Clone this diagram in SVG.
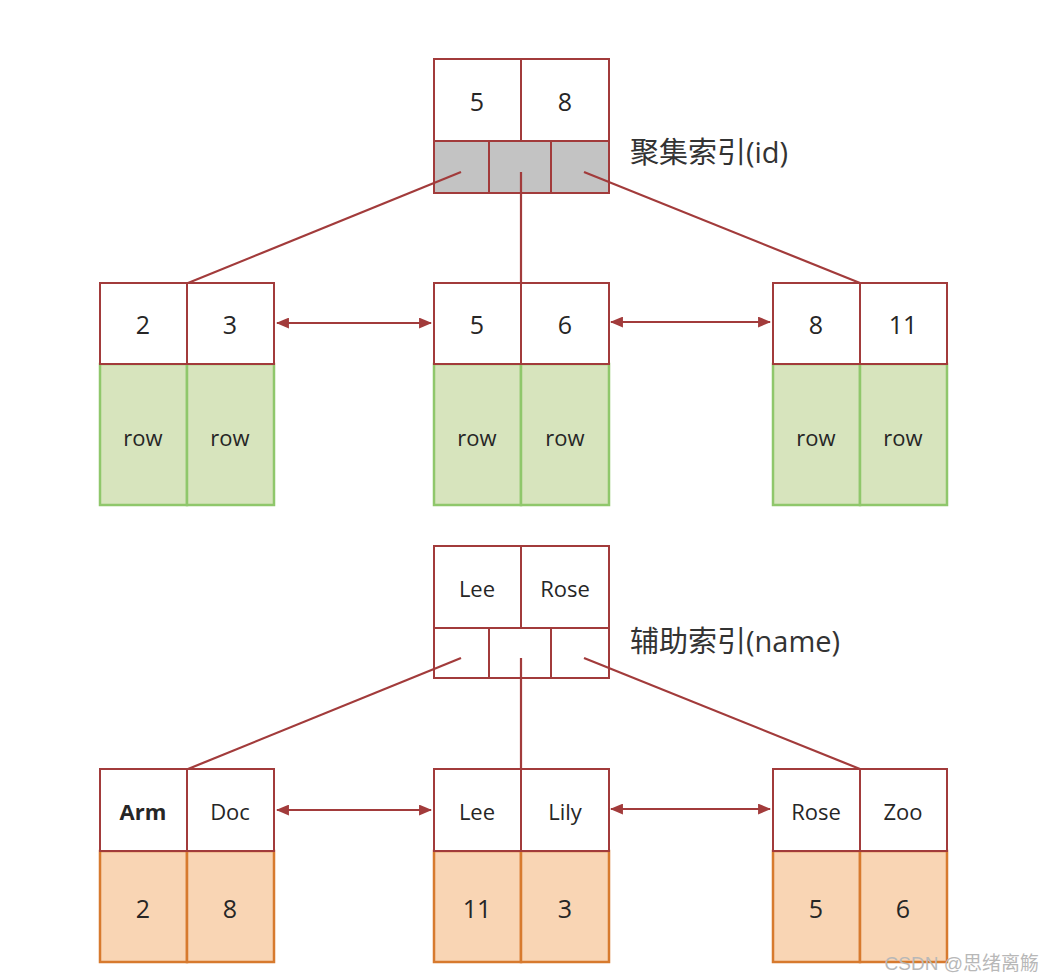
<svg xmlns="http://www.w3.org/2000/svg" width="1043" height="979" viewBox="0 0 1043 979">
<style>
.k{fill:#fff;stroke:#a23b3b;stroke-width:2}
.g{fill:#c3c3c3;stroke:#a23b3b;stroke-width:2}
.p{fill:#fff;stroke:#a23b3b;stroke-width:2}
.row{fill:#d7e4bd;stroke:#8fc76b;stroke-width:2.5}
.val{fill:#f9d5b4;stroke:#d77a2e;stroke-width:2.5}
.t{font-family:"Open Sans","Liberation Sans",sans-serif;font-size:25px;fill:#262626;text-anchor:middle;dominant-baseline:central}
.s{font-family:"Open Sans","Liberation Sans",sans-serif;font-size:22px;fill:#262626;text-anchor:middle;dominant-baseline:central}
.lab{font-family:"Open Sans","Noto Sans CJK SC",sans-serif;font-size:29px;fill:#333}
.c{stroke:#a23b3b;stroke-width:2.2;fill:none}
</style>
<defs>
<marker id="ah" viewBox="0 0 12 10" refX="11" refY="5" markerWidth="13" markerHeight="11" markerUnits="userSpaceOnUse" orient="auto-start-reverse">
<path d="M0,0 L12,5 L0,10 Z" fill="#a23b3b"/>
</marker>
</defs>
<rect width="1043" height="979" fill="#fff"/>

<g id="connectors">
<line class="c" x1="461" y1="172" x2="188" y2="283"/>
<line class="c" x1="521" y1="172" x2="521" y2="283"/>
<line class="c" x1="584" y1="172" x2="860" y2="283"/>
<line class="c" x1="277" y1="323" x2="431" y2="323" marker-start="url(#ah)" marker-end="url(#ah)"/>
<line class="c" x1="611" y1="322" x2="770" y2="322" marker-start="url(#ah)" marker-end="url(#ah)"/>
<line class="c" x1="461" y1="658" x2="188" y2="769"/>
<line class="c" x1="521" y1="658" x2="521" y2="769"/>
<line class="c" x1="584" y1="658" x2="860" y2="769"/>
<line class="c" x1="277" y1="810" x2="431" y2="810" marker-start="url(#ah)" marker-end="url(#ah)"/>
<line class="c" x1="611" y1="809" x2="770" y2="809" marker-start="url(#ah)" marker-end="url(#ah)"/>
</g>

<g id="root-id">
<rect class="k" x="434" y="59" width="87" height="82"/>
<rect class="k" x="521" y="59" width="88" height="82"/>
<rect class="g" x="434" y="141" width="55" height="52"/>
<rect class="g" x="489" y="141" width="62" height="52"/>
<rect class="g" x="551" y="141" width="58" height="52"/>
<line class="c" x1="461" y1="172" x2="434" y2="183"/>
<line class="c" x1="521" y1="172" x2="521" y2="193"/>
<line class="c" x1="584" y1="172" x2="609" y2="182"/>
<text class="t" x="477" y="101">5</text>
<text class="t" x="565" y="101">8</text>
<text class="lab" x="630" y="163">聚集索引(id)</text>
</g>

<g id="leaf-id-1">
<rect class="row" x="100" y="364" width="87" height="141"/>
<rect class="row" x="187" y="364" width="87" height="141"/>
<rect class="k" x="100" y="283" width="87" height="81"/>
<rect class="k" x="187" y="283" width="87" height="81"/>
<text class="t" x="143" y="324">2</text>
<text class="t" x="230" y="324">3</text>
<text class="s" x="143" y="437">row</text>
<text class="s" x="230" y="437">row</text>
</g>

<g id="leaf-id-2">
<rect class="row" x="434" y="364" width="87" height="141"/>
<rect class="row" x="521" y="364" width="88" height="141"/>
<rect class="k" x="434" y="283" width="87" height="81"/>
<rect class="k" x="521" y="283" width="88" height="81"/>
<text class="t" x="477" y="324">5</text>
<text class="t" x="565" y="324">6</text>
<text class="s" x="477" y="437">row</text>
<text class="s" x="565" y="437">row</text>
</g>

<g id="leaf-id-3">
<rect class="row" x="773" y="364" width="87" height="141"/>
<rect class="row" x="860" y="364" width="87" height="141"/>
<rect class="k" x="773" y="283" width="87" height="81"/>
<rect class="k" x="860" y="283" width="87" height="81"/>
<text class="t" x="816" y="324">8</text>
<text class="t" x="903" y="324">11</text>
<text class="s" x="816" y="437">row</text>
<text class="s" x="903" y="437">row</text>
</g>

<g id="root-name">
<rect class="k" x="434" y="546" width="87" height="82"/>
<rect class="k" x="521" y="546" width="88" height="82"/>
<rect class="p" x="434" y="628" width="55" height="50"/>
<rect class="p" x="489" y="628" width="62" height="50"/>
<rect class="p" x="551" y="628" width="58" height="50"/>
<line class="c" x1="461" y1="658" x2="434" y2="669"/>
<line class="c" x1="521" y1="658" x2="521" y2="678"/>
<line class="c" x1="584" y1="658" x2="609" y2="668"/>
<text class="s" x="477" y="588">Lee</text>
<text class="s" x="565" y="588">Rose</text>
<text class="lab" x="630" y="652">辅助索引(name)</text>
</g>

<g id="leaf-name-1">
<rect class="val" x="100" y="851" width="87" height="111"/>
<rect class="val" x="187" y="851" width="87" height="111"/>
<rect class="k" x="100" y="769" width="87" height="82"/>
<rect class="k" x="187" y="769" width="87" height="82"/>
<text class="s" x="143" y="811" font-weight="bold" fill="#1a1a1a">Arm</text>
<text class="s" x="230" y="811">Doc</text>
<text class="t" x="143" y="908">2</text>
<text class="t" x="230" y="908">8</text>
</g>

<g id="leaf-name-2">
<rect class="val" x="434" y="851" width="87" height="111"/>
<rect class="val" x="521" y="851" width="88" height="111"/>
<rect class="k" x="434" y="769" width="87" height="82"/>
<rect class="k" x="521" y="769" width="88" height="82"/>
<text class="s" x="477" y="811">Lee</text>
<text class="s" x="565" y="811">Lily</text>
<text class="t" x="477" y="908">11</text>
<text class="t" x="565" y="908">3</text>
</g>

<g id="leaf-name-3">
<rect class="val" x="773" y="851" width="87" height="111"/>
<rect class="val" x="860" y="851" width="87" height="111"/>
<rect class="k" x="773" y="769" width="87" height="82"/>
<rect class="k" x="860" y="769" width="87" height="82"/>
<text class="s" x="816" y="811">Rose</text>
<text class="s" x="903" y="811">Zoo</text>
<text class="t" x="816" y="908">5</text>
<text class="t" x="903" y="908">6</text>
</g>

<text x="1039" y="970" text-anchor="end" font-family="'Liberation Sans','Noto Sans CJK SC',sans-serif" font-size="19" fill="#b8b8b8">CSDN @思绪离觞</text>
</svg>
